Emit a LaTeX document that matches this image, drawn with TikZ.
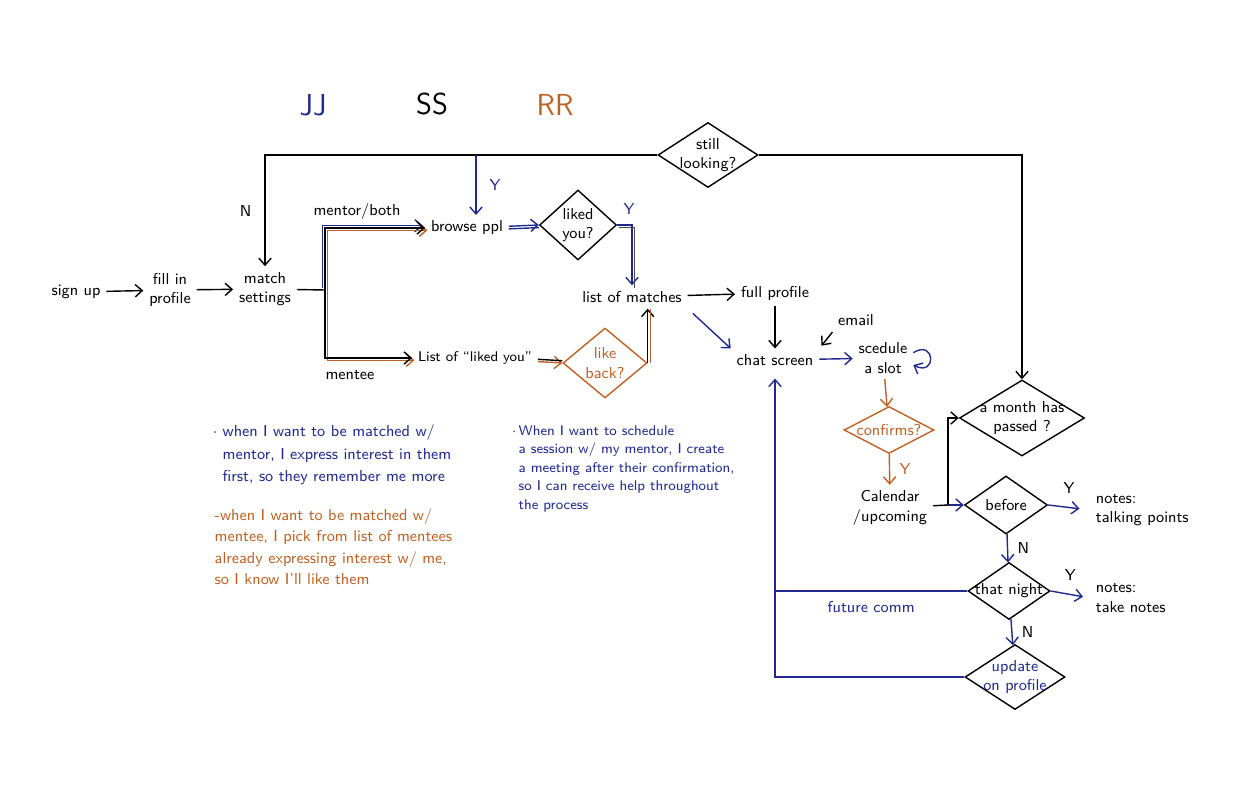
\documentclass[tikz,border=0pt]{standalone}
\usepackage{xcolor}
\usepackage{tikz}
\usetikzlibrary{arrows.meta,positioning,shapes.geometric}
\renewcommand{\familydefault}{\sfdefault}

\definecolor{jjblue}{RGB}{32,42,140}
\definecolor{rrbrown}{RGB}{188,98,38}

\begin{document}
\begin{tikzpicture}[
    x=0.02cm, y=-0.02cm,
    line width=0.8pt,
    txt/.style={align=center, inner sep=3pt, font=\small},
    lbl/.style={font=\small, inner sep=1pt},
    dec/.style={diamond, draw, inner sep=0pt},
    dtext/.style={align=center, font=\small, inner sep=0pt},
    flow/.style={-{Straight Barb[length=4pt,width=7pt]}},
    note/.style={align=left, anchor=north west, inner sep=0pt}
]
\useasboundingbox (0,0) rectangle (1258,800);

% who is who
\node[font=\LARGE, text=jjblue] (jj) at (313,105) {JJ};
\node[font=\LARGE] (ss) at (432,104) {SS};
\node[font=\LARGE, text=rrbrown] (rr) at (555,105) {RR};

% onboarding
\node[txt] (signup) at (76,292) {sign up};
\node[txt] (fill) at (170,290) {fill in\\profile};
\node[txt] (settings) at (265,289) {match\\settings};
\coordinate (split) at (325,290);
\node[lbl] (mentorlbl) at (357,212) {mentor/both};
\node[lbl] (menteelbl) at (350,375) {mentee};

% matching
\node[txt] (browse) at (467,228) {browse ppl};
\node[txt, font=\footnotesize] (likedlist) at (475,358) {List of “liked you”};
\node[dec, minimum width=1.54cm, minimum height=1.4cm,
      label={[dtext]center:{liked\\you?}}] (liked) at (578,225) {};
\node[dec, draw=rrbrown, minimum width=1.68cm, minimum height=1.4cm,
      label={[dtext, text=rrbrown]center:{like\\back?}}] (likeback) at (605,363) {};
\node[txt] (matches) at (632,297) {list of matches};
\node[txt] (full) at (775,293) {full profile};
\node[dec, minimum width=2cm, minimum height=1.3cm,
      label={[dtext]center:{still\\looking?}}] (still) at (708,155) {};

% chatting and scheduling
\node[txt] (chat) at (775,360) {chat screen};
\node[lbl] (email) at (856,320) {email};
\node[txt] (slot) at (883,358) {scedule\\a slot};
\node[dec, draw=rrbrown, minimum width=1.8cm, minimum height=0.94cm,
      label={[dtext, text=rrbrown]center:{confirms?}}] (confirms) at (889,430) {};
\node[txt] (cal) at (890,508) {Calendar\\/upcoming};
\coordinate (fork) at (948,505);

% around the meeting
\node[dec, minimum width=2.5cm, minimum height=1.52cm,
      label={[dtext]center:{a month has\\passed ?}}] (month) at (1022,418) {};
\node[dec, minimum width=1.66cm, minimum height=1.16cm,
      label={[dtext]center:{before}}] (before) at (1006,505) {};
\node[dec, minimum width=1.64cm, minimum height=1.14cm,
      label={[dtext]center:{that night}}] (night) at (1009,591) {};
\node[dec, minimum width=2cm, minimum height=1.3cm,
      label={[dtext, text=jjblue]center:{update\\on profile}}] (update) at (1015,677) {};
\node[txt, align=left, anchor=west] (talk) at (1090,510) {notes:\\talking points};
\node[txt, align=left, anchor=west] (take) at (1090,598) {notes:\\take notes};
\coordinate (back) at (chat.south |- night.west);

% stories
\node[note, text=jjblue, font=\fontsize{9}{12.8}\selectfont] (note1) at (222,424)
  {\llap{$\cdot$\ }when I want to be matched w/\\mentor, I express interest in them\\first, so they remember me more};
\node[note, text=rrbrown, font=\fontsize{9}{12.2}\selectfont] (note2) at (214,508)
  {-when I want to be matched w/\\mentee, I pick from list of mentees\\already expressing interest w/ me,\\so I know I'll like them};
\node[note, text=jjblue, font=\fontsize{8}{10.5}\selectfont] (note3) at (518,425)
  {\llap{$\cdot$\,}When I want to schedule\\a session w/ my mentor, I create\\a meeting after their confirmation,\\so I can receive help throughout\\the process};

% connectors
\draw[flow] (signup) -- (fill);
\draw[flow] (fill) -- (settings);
\draw (settings) -- (split);
\draw[flow, jjblue, transform canvas={shift={(-1.3pt,1.3pt)}}] (split) |- (browse.west);
\draw[flow, rrbrown, transform canvas={shift={(1.3pt,-1.3pt)}}] (split) |- (browse.west);
\draw[flow] (split) |- (browse.west);
\draw[flow, rrbrown, transform canvas={shift={(1.3pt,-1.3pt)}}] (split) |- (likedlist.west);
\draw[flow] (split) |- (likedlist.west);

\draw[flow] (still.west) -| node[pos=0.75, left=4pt, font=\small] {N} (settings.north);
\draw[flow] (still.east) -| (month.north);
\coordinate (ytap) at (476,155);
\draw[flow, jjblue] (ytap) -- (ytap |- browse.north) node[midway, right=4pt, font=\small] {Y};

\draw[flow, jjblue] (browse) -- (liked.west);
\draw[jjblue, transform canvas={yshift=-1.5pt}] (browse) -- (liked.west);
\draw[flow, jjblue] (liked.east) -| node[pos=0.4, above=2pt, font=\small] {Y} (matches.north);
\draw[black!70, transform canvas={shift={(1.3pt,-1.3pt)}}] (liked.east) -| (matches.north);
\draw[flow, rrbrown] (likedlist) -- (likeback.west);
\draw[transform canvas={yshift=1.3pt}] (likedlist) -- (likeback.west);
\draw[flow] (likeback.east) -- (likeback.east |- matches.south);
\draw[rrbrown, transform canvas={xshift=1.5pt}] (likeback.east) -- (likeback.east |- matches.south);

\draw[flow] (matches) -- (full);
\draw[flow] (full) -- (chat);
\draw[flow, jjblue, shorten <=4pt] (matches.south east) -- (chat.north west);
\draw[flow, shorten <=3pt, shorten >=2pt] (email.south west) -- (chat.north east);
\draw[flow, jjblue] (chat) -- (slot);
\draw[flow, jjblue] ([yshift=3pt]slot.east) .. controls +(22,-14) and +(24,12) .. ([yshift=-4pt]slot.east);
\draw[flow, rrbrown] (slot) -- (confirms);
\draw[flow, rrbrown] (confirms) -- node[midway, right=2pt, font=\small] {Y} (cal);

\draw (cal) -- (fork);
\draw[flow, jjblue] (fork) -- (before.west);
\draw[flow] (fork) |- (month.west);
\draw[flow, jjblue, shorten >=6pt] (before.east) -- node[midway, above=4pt, text=black, font=\small] {Y} (talk.west);
\draw[flow, jjblue] (before) -- node[midway, right=2pt, text=black, font=\small] {N} (night);
\draw[flow, jjblue, shorten >=4pt] (night.east) -- node[midway, above=4pt, text=black, font=\small] {Y} (take.west);
\draw[flow, jjblue] (night) -- node[midway, right=2pt, text=black, font=\small] {N} (update);

\draw[jjblue] (night.west) -- node[below=2pt, font=\small] {future comm} (back);
\draw[flow, jjblue, shorten >=4pt] (back) -- (chat.south);
\draw[jjblue] (update.west) -| (back);
\end{tikzpicture}
\end{document}
